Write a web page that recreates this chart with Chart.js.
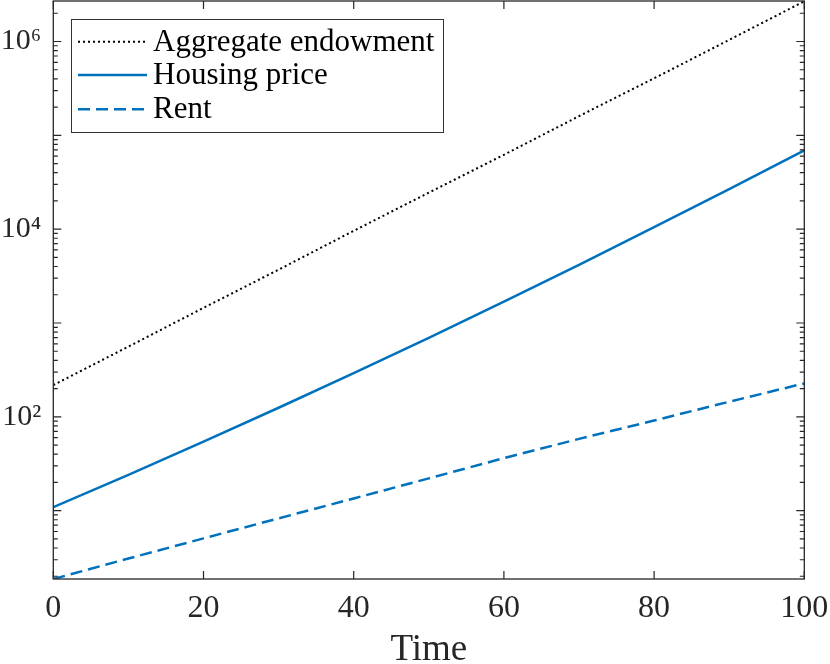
<!DOCTYPE html>
<html>
<head>
<meta charset="utf-8">
<script src="https://cdn.jsdelivr.net/npm/chart.js@4.4.1/dist/chart.umd.min.js"></script>
<style>
  html, body { margin: 0; padding: 0; background: #fff; }
  canvas { display: block; }
</style>
</head>
<body>
<canvas id="myChart" width="830" height="664"></canvas>
<script>
// values (log scale)
const periods = [0, 10, 20, 30, 40, 50, 60, 70, 80, 90, 100];
const endowment = [218, 560, 1450, 3700, 9600, 24500, 62000, 160000, 405000, 1040000, 2680000];
const housingPrice = [10.9, 24.1, 54.3, 125, 292, 695, 1690, 4170, 10500, 26700, 69000];
const rent = [1.87, 3.09, 5.07, 8.28, 13.5, 22.1, 36.3, 58.2, 91.2, 145, 227];

const seriesNames = ['Aggregate endowment', 'Housing price', 'Rent'];
const xTicks = [0, 20, 40, 60, 80, 100];
const yMajorTicks = [100, 10000, 1000000];
const yTickText = ['10²', '10⁴', '10⁶'];

const serif = "'Liberation Serif', 'DejaVu Serif', serif";
const axisColor = '#262626';
const blue = '#0072BD';

function pts(ys) {
  return periods.map((t, i) => ({ x: t, y: ys[i] }));
}

function noPadding(scale) {
  scale.paddingTop = 0;
  scale.paddingBottom = 0;
  scale.paddingLeft = 0;
  scale.paddingRight = 0;
}

// MATLAB style box, inward ticks and legend
const matlabAxes = {
  id: 'matlabAxes',
  afterDraw(chart) {
    const { ctx, chartArea: a, scales: { x, y } } = chart;
    ctx.save();
    ctx.strokeStyle = axisColor;
    ctx.lineWidth = 1.3;
    ctx.strokeRect(a.left, a.top, a.right - a.left, a.bottom - a.top);

    ctx.lineWidth = 1.2;
    ctx.beginPath();
    xTicks.forEach(v => {
      const px = x.getPixelForValue(v);
      ctx.moveTo(px, a.bottom); ctx.lineTo(px, a.bottom - 8);
      ctx.moveTo(px, a.top); ctx.lineTo(px, a.top + 8);
    });
    for (let e = 0; e <= 6; e++) {
      for (let m = 1; m <= 9; m++) {
        const v = m * Math.pow(10, e);
        if (v < y.min || v > y.max) continue;
        const py = y.getPixelForValue(v);
        const len = m === 1 ? 8 : 4.5;
        ctx.moveTo(a.left, py); ctx.lineTo(a.left + len, py);
        ctx.moveTo(a.right, py); ctx.lineTo(a.right - len, py);
      }
    }
    ctx.stroke();

    // legend box
    const bx = 71, by = 19, bw = 372, bh = 113;
    ctx.fillStyle = '#fff';
    ctx.fillRect(bx, by, bw, bh);
    ctx.strokeStyle = '#333';
    ctx.lineWidth = 1;
    ctx.strokeRect(bx + 0.5, by + 0.5, bw, bh);
    const rows = [41.7, 75, 109.3];
    ctx.font = '31px ' + serif;
    ctx.textBaseline = 'middle';
    chart.data.datasets.forEach((ds, i) => {
      ctx.beginPath();
      ctx.strokeStyle = ds.borderColor;
      ctx.lineWidth = ds.borderWidth;
      ctx.setLineDash(ds.borderDash || []);
      ctx.moveTo(78, rows[i]);
      ctx.lineTo(147, rows[i]);
      ctx.stroke();
      ctx.setLineDash([]);
      ctx.fillStyle = '#000';
      ctx.fillText(ds.label, 153, rows[i] + 1);
    });
    ctx.restore();
  }
};

const ctx = document.getElementById('myChart').getContext('2d');
const chart = new Chart(ctx, {
  type: 'line',
  data: {
    datasets: [{
      label: seriesNames[0],
      data: pts(endowment),
      borderColor: '#000',
      borderWidth: 2,
      borderDash: [2, 3],
      pointRadius: 0
    }, {
      label: seriesNames[1],
      data: pts(housingPrice),
      borderColor: blue,
      borderWidth: 2.5,
      pointRadius: 0
    }, {
      label: seriesNames[2],
      data: pts(rent),
      borderColor: blue,
      borderWidth: 2.5,
      borderDash: [12, 6],
      pointRadius: 0
    }]
  },
  options: {
    responsive: false,
    animation: false,
    devicePixelRatio: 1,
    layout: { padding: { top: 1, right: 25.7, bottom: 0, left: 0 } },
    plugins: {
      legend: { display: false },
      tooltip: { enabled: false }
    },
    scales: {
      x: {
        type: 'linear',
        min: 0,
        max: 100,
        grid: { display: false, drawTicks: false },
        border: { display: false },
        ticks: {
          stepSize: 20,
          padding: 10,
          color: axisColor,
          font: { family: serif, size: 32 }
        },
        title: {
          display: true,
          text: 'Time',
          color: axisColor,
          font: { family: serif, size: 37, lineHeight: 1 },
          padding: { top: 0, bottom: -5 }
        },
        afterFit(scale) { scale.height = 85; noPadding(scale); }
      },
      y: {
        type: 'logarithmic',
        min: 1.87,
        max: 2.7e6,
        grid: { display: false, drawTicks: false },
        border: { display: false },
        afterBuildTicks(scale) {
          scale.ticks = yMajorTicks.map(v => ({ value: v }));
        },
        ticks: {
          autoSkip: false,
          padding: 12,
          color: axisColor,
          font: { family: serif, size: 30 },
          callback: (value, i) => yTickText[i]
        },
        afterFit(scale) { scale.width = 53.3; noPadding(scale); }
      }
    }
  },
  plugins: [matlabAxes]
});
</script>
</body>
</html>
